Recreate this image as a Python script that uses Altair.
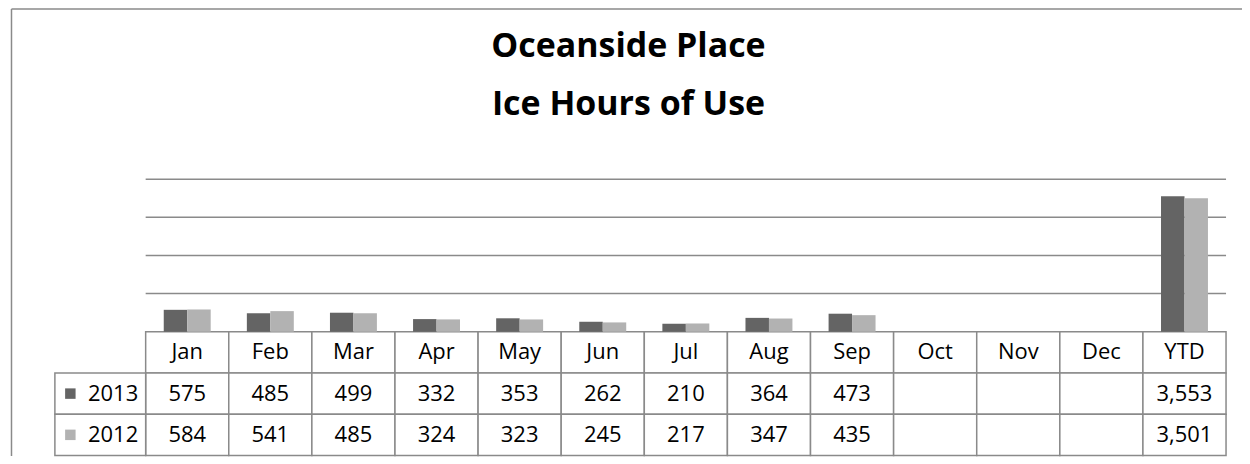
import altair as alt
import pandas as pd

# ---- data ----
months = ["Jan", "Feb", "Mar", "Apr", "May", "Jun", "Jul", "Aug", "Sep", "Oct", "Nov", "Dec", "YTD"]
years = ["2013", "2012"]
hours_2013 = [575, 485, 499, 332, 353, 262, 210, 364, 473, None, None, None, 3553]
hours_2012 = [584, 541, 485, 324, 323, 245, 217, 347, 435, None, None, None, 3501]
grid_values = [1000, 2000, 3000, 4000]
title_lines = ["Oceanside Place", "Ice Hours of Use"]

# ---- layout / style ----
W, H = 1234, 448
FONT = "Open Sans"
DARK, LIGHT = "#646464", "#b2b2b2"
BORDER = "#8a8a8a"
GRID = "#8a8a8a"
X_RANGE = [135, 1218]      # plot area / table month columns
Y_RANGE = [324, 171]       # value axis 0 -> 4000
ROW_RANGE = [324, 448]     # data table rows
HDR_RANGE = [44, 135]      # legend-key column of the data table
TITLE_RANGE = [49, 107]
TITLE_X = 619

# ---- tables built from the arrays ----
bar_rows = []
for m, a, b in zip(months, hours_2013, hours_2012):
    for yr, v in (("2013", a), ("2012", b)):
        if v is not None:
            bar_rows.append({"month": m, "year": yr, "hours": v})
bars_df = pd.DataFrame(bar_rows)

cell_rows = []
for m, a, b in zip(months, hours_2013, hours_2012):
    cell_rows.append({"month": m, "row": "hdr", "label": m})
    cell_rows.append({"month": m, "row": "2013", "label": "" if a is None else f"{a:,}"})
    cell_rows.append({"month": m, "row": "2012", "label": "" if b is None else f"{b:,}"})
cells_df = pd.DataFrame(cell_rows)

key_df = pd.DataFrame({"col": ["key", "key"], "row": years})
grid_df = pd.DataFrame({"value": grid_values})
title_df = pd.DataFrame({"idx": [0, 1], "line": title_lines})
frame_df = pd.DataFrame({"a": [0]})

# ---- scales ----
x_month = alt.Scale(domain=months, range=X_RANGE, paddingInner=0, paddingOuter=0)
y_val = alt.Scale(domain=[0, 4000], range=Y_RANGE, nice=False, zero=True)
y_row = alt.Scale(domain=["hdr"] + years, range=ROW_RANGE, paddingInner=0, paddingOuter=0)
color_year = alt.Scale(domain=years, range=[DARK, LIGHT])

frame = alt.Chart(frame_df).mark_point(opacity=0).encode(
    x=alt.X("a:Q", scale=alt.Scale(domain=[0, 1]),
            axis=alt.Axis(orient="top", domain=True, domainColor=BORDER, domainWidth=1.5,
                          ticks=False, labels=False, grid=False, title=None)),
    y=alt.Y("a:Q", scale=alt.Scale(domain=[0, 1]),
            axis=alt.Axis(orient="left", domain=True, domainColor=BORDER, domainWidth=1.5,
                          ticks=False, labels=False, grid=False, title=None)),
)

title = alt.Chart(title_df).mark_text(
    font=FONT, fontSize=34, fontWeight="bold", baseline="alphabetic", align="center", color="black"
).encode(
    text="line:N",
    x=alt.value(TITLE_X),
    y=alt.Y("idx:O", scale=alt.Scale(type="point", domain=[0, 1], range=TITLE_RANGE, padding=0), axis=None),
)

grid = alt.Chart(grid_df).mark_rule(color=GRID, strokeWidth=1.5).encode(
    x=alt.X(datum=0, type="quantitative", scale=alt.Scale(domain=[0, 1], range=X_RANGE), axis=None),
    x2=alt.X2(datum=1),
    y=alt.Y("value:Q", scale=y_val, axis=None),
)

bars = alt.Chart(bars_df).mark_bar().encode(
    x=alt.X("month:N", scale=x_month, axis=None, sort=months),
    xOffset=alt.XOffset("year:N", scale=alt.Scale(domain=years, paddingInner=0, paddingOuter=0.77)),
    y=alt.Y("hours:Q", scale=y_val, axis=None),
    color=alt.Color("year:N", scale=color_year, legend=None),
)

cells = alt.Chart(cells_df).mark_rect(fill="white", stroke=BORDER, strokeWidth=1.5).encode(
    x=alt.X("month:N", scale=x_month, axis=None, sort=months),
    y=alt.Y("row:N", scale=y_row, axis=None),
)

cell_text = alt.Chart(cells_df).mark_text(
    font=FONT, fontSize=22, baseline="middle", align="center", color="black"
).encode(
    x=alt.X("month:N", scale=x_month, axis=None, sort=months),
    y=alt.Y("row:N", scale=y_row, axis=None),
    text="label:N",
)

x_key = alt.Scale(domain=["key"], range=HDR_RANGE, paddingInner=0, paddingOuter=0)

key_cells = alt.Chart(key_df).mark_rect(fill="white", stroke=BORDER, strokeWidth=1.5).encode(
    x=alt.X("col:N", scale=x_key, axis=None),
    y=alt.Y("row:N", scale=y_row, axis=None),
)

key_swatch = alt.Chart(key_df).mark_square(size=110, xOffset=-30, opacity=1).encode(
    x=alt.X("col:N", scale=x_key, axis=None),
    y=alt.Y("row:N", scale=y_row, axis=None),
    color=alt.Color("row:N", scale=color_year, legend=None),
)

key_text = alt.Chart(key_df).mark_text(
    font=FONT, fontSize=22, baseline="middle", align="right", dx=38, color="black"
).encode(
    x=alt.X("col:N", scale=x_key, axis=None),
    y=alt.Y("row:N", scale=y_row, axis=None),
    text="row:N",
)

chart = alt.layer(
    frame, title, grid, cells, key_cells, bars, cell_text, key_swatch, key_text
).resolve_scale(
    x="independent", y="independent", color="independent"
).properties(
    width=W, height=H, padding=0
).configure_view(stroke=None)

chart.save("out.html", embed_options={"renderer": "svg", "actions": False})
